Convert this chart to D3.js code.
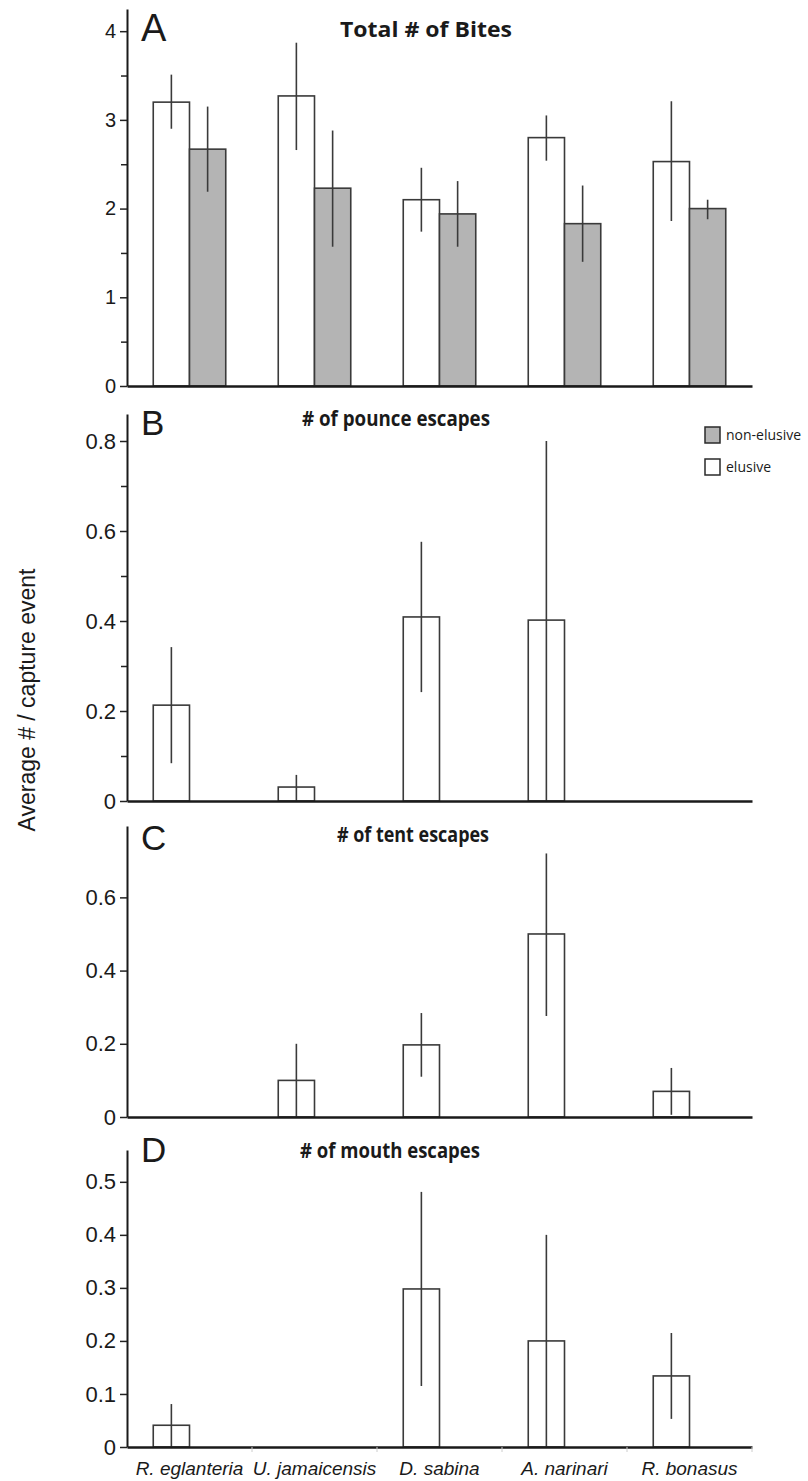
<!DOCTYPE html>
<html>
<head>
<meta charset="utf-8">
<script src="https://cdn.jsdelivr.net/npm/d3@7"></script>
<style>
  body { margin: 0; background: #fff; }
  svg text { fill: #1a1a1a; }
</style>
</head>
<body>
<div id="chart"></div>
<script>
// species on the x axis
var species = ['R. eglanteria', 'U. jamaicensis', 'D. sabina', 'A. narinari', 'R. bonasus'];
var groups = ['elusive', 'non-elusive'];

// A - total # of bites
var bitesElusive   = [3.20, 3.27, 2.10, 2.80, 2.53];
var bitesElusiveLo = [2.90, 2.66, 1.74, 2.54, 1.86];
var bitesElusiveHi = [3.51, 3.87, 2.46, 3.05, 3.21];
var bitesNon   = [2.67, 2.23, 1.94, 1.83, 2.00];
var bitesNonLo = [2.19, 1.57, 1.57, 1.40, 1.88];
var bitesNonHi = [3.15, 2.88, 2.31, 2.26, 2.10];

// B - pounce escapes (elusive prey only)
var pounce   = [0.213, 0.031, 0.409, 0.402, null];
var pounceLo = [0.084, 0.000, 0.242, 0.000, null];
var pounceHi = [0.342, 0.058, 0.576, 0.800, null];

// C - tent escapes
var tent   = [null, 0.100, 0.197, 0.500, 0.070];
var tentLo = [null, 0.000, 0.110, 0.276, 0.006];
var tentHi = [null, 0.200, 0.284, 0.720, 0.134];

// D - mouth escapes
var mouth   = [0.041, null, 0.298, 0.200, 0.134];
var mouthLo = [0.000, null, 0.115, 0.000, 0.053];
var mouthHi = [0.081, null, 0.481, 0.400, 0.215];

// y tick labels
var ticksA = [0, 1, 2, 3, 4];
var ticksB = [0, 0.2, 0.4, 0.6, 0.8];
var ticksC = [0, 0.2, 0.4, 0.6];
var ticksD = [0, 0.1, 0.2, 0.3, 0.4, 0.5];

var legendLabels = ['non-elusive', 'elusive'];

function rows(vals, lo, hi, group) {
    return species.map(function(s, i) {
        return {sp: s, group: group, v: vals[i], lo: lo[i], hi: hi[i]};
    }).filter(function(d) { return d.v !== null; });
}

// layout of the four stacked panels
var panels = [
    {letter: 'A', title: 'Total # of Bites', top: 9, zero: 386, max: 4.25, ticks: ticksA, minor: d3.range(0.5, 4.1, 1),
     data: rows(bitesElusive, bitesElusiveLo, bitesElusiveHi, 'elusive').concat(rows(bitesNon, bitesNonLo, bitesNonHi, 'non-elusive')),
     titleX: 340, titleY: 37, titleSize: 22, titleLen: 172, letterY: 41, letterSize: 38},
    {letter: 'B', title: '# of pounce escapes', top: 414, zero: 801, max: 0.86, ticks: ticksB, minor: [0.1, 0.3, 0.5, 0.7],
     data: rows(pounce, pounceLo, pounceHi, 'elusive'),
     titleX: 302, titleY: 426, titleSize: 21, titleLen: 188, letterY: 435, letterSize: 35},
    {letter: 'C', title: '# of tent escapes', top: 826, zero: 1117, max: 0.795, ticks: ticksC, minor: [],
     data: rows(tent, tentLo, tentHi, 'elusive'),
     titleX: 337, titleY: 842, titleSize: 21, titleLen: 152, letterY: 850, letterSize: 35},
    {letter: 'D', title: '# of mouth escapes', top: 1150, zero: 1447, max: 0.56, ticks: ticksD, minor: [],
     data: rows(mouth, mouthLo, mouthHi, 'elusive'),
     titleX: 300, titleY: 1158, titleSize: 21, titleLen: 180, letterY: 1162, letterSize: 35}
];

var W = 808, H = 1481;
var svg = d3.select('#chart').append('svg')
    .attr('width', W).attr('height', H)
    .style('font-family', 'Liberation Sans, Arial, sans-serif');

var x = d3.scaleBand().domain(species).range([127, 752])
    .paddingInner(0.42).paddingOuter(0.21);
var x1 = d3.scaleBand().domain(groups).range([0, x.bandwidth()]);
var fill = d3.scaleOrdinal().domain(groups).range(['#ffffff', '#b4b4b4']);

var fmt = function(d) { return d === 0 ? '0' : d3.format('.1f')(d); };

panels.forEach(function(p, pi) {
    var g = svg.append('g');
    var y = d3.scaleLinear().domain([0, p.max]).range([p.zero, p.top]);

    // bars
    g.selectAll('rect.bar').data(p.data).enter().append('rect')
        .attr('class', 'bar')
        .attr('x', function(d) { return x(d.sp) + x1(d.group); })
        .attr('width', x1.bandwidth())
        .attr('y', function(d) { return y(d.v); })
        .attr('height', function(d) { return p.zero - y(d.v); })
        .attr('fill', function(d) { return fill(d.group); })
        .attr('stroke', '#3a3a3a').attr('stroke-width', 1.6);

    // error bars
    g.selectAll('line.err').data(p.data).enter().append('line')
        .attr('class', 'err')
        .attr('x1', function(d) { return x(d.sp) + x1(d.group) + x1.bandwidth() / 2; })
        .attr('x2', function(d) { return x(d.sp) + x1(d.group) + x1.bandwidth() / 2; })
        .attr('y1', function(d) { return y(d.lo); })
        .attr('y2', function(d) { return y(d.hi); })
        .attr('stroke', '#3a3a3a').attr('stroke-width', 1.6);

    // minor y ticks
    g.append('g')
        .attr('transform', 'translate(127,0)')
        .call(d3.axisLeft(y).tickValues(p.minor).tickSize(6).tickFormat(''))
        .call(function(a) { a.select('.domain').remove(); })
        .selectAll('line').attr('stroke', '#222').attr('stroke-width', 1.5);

    // y axis
    var ya = g.append('g')
        .attr('transform', 'translate(127,0)')
        .call(d3.axisLeft(y).tickValues(p.ticks).tickSize(7).tickSizeOuter(0).tickPadding(4)
            .tickFormat(pi === 0 ? d3.format('d') : fmt));
    ya.select('.domain').attr('stroke', '#1a1a1a').attr('stroke-width', 2);
    ya.selectAll('.tick line').attr('stroke', '#222').attr('stroke-width', 1.5);
    ya.selectAll('.tick text')
        .style('font-size', pi === 0 ? '20px' : '22px')
        .attr('fill', '#1a1a1a');

    // x axis
    var xa = g.append('g')
        .attr('transform', 'translate(0,' + p.zero + ')')
        .call(d3.axisBottom(x).tickSize(0).tickSizeOuter(0).tickPadding(15)
            .tickFormat(pi === 3 ? null : ''));
    xa.select('.domain').attr('stroke', '#1a1a1a').attr('stroke-width', 2.5);
    xa.selectAll('.tick text')
        .style('font-size', '19px').style('font-style', 'italic')
        .attr('fill', '#1a1a1a');

    // faint boundary ticks under the last panel
    if (pi === 3) {
        g.selectAll('line.sep').data(species).enter().append('line')
            .attr('x1', function(d) { return x(d) + x.step() - x.step() * 0.21; })
            .attr('x2', function(d) { return x(d) + x.step() - x.step() * 0.21; })
            .attr('y1', p.zero).attr('y2', p.zero + 5)
            .attr('stroke', '#ccc').attr('stroke-width', 1);
    }

    // panel letter
    g.append('text')
        .attr('x', 141).attr('y', p.letterY)
        .style('font-size', p.letterSize + 'px')
        .text(p.letter);

    // title, squeezed to the condensed look of the original
    g.append('text')
        .attr('x', p.titleX).attr('y', p.titleY)
        .attr('textLength', p.titleLen).attr('lengthAdjust', 'spacingAndGlyphs')
        .style('font-family', 'Open Sans, sans-serif')
        .style('font-weight', 'bold')
        .style('font-size', p.titleSize + 'px')
        .text(p.title);
});

// legend in panel B
var leg = svg.append('g').attr('transform', 'translate(705,427)');
legendLabels.forEach(function(l, i) {
    leg.append('rect')
        .attr('x', 0).attr('y', i * 32)
        .attr('width', 15).attr('height', 16)
        .attr('fill', fill(l)).attr('stroke', '#2a2a2a').attr('stroke-width', 1.5);
    leg.append('text')
        .attr('x', 21).attr('y', i * 32 + 13)
        .style('font-family', 'Open Sans, sans-serif')
        .style('font-size', '14px')
        .text(l);
});

// shared y label
svg.append('text')
    .attr('transform', 'translate(35,700) rotate(-90)')
    .attr('text-anchor', 'middle')
    .style('font-size', '23px')
    .text('Average # / capture event');
</script>
</body>
</html>
